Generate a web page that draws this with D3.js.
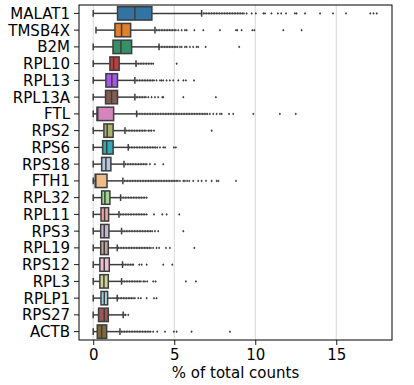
<!DOCTYPE html>
<html>
<head>
<meta charset="utf-8">
<script src="https://cdn.jsdelivr.net/npm/d3@7.9.0/dist/d3.min.js"></script>
<style>
  body { margin: 0; background: #fff; }
  text { font-family: "DejaVu Sans", sans-serif; }
</style>
</head>
<body>
<svg id="chart" width="414" height="385"></svg>
<script>
// gene order, top to bottom
const genes = ["MALAT1", "TMSB4X", "B2M", "RPL10", "RPL13", "RPL13A", "FTL", "RPS2", "RPS6", "RPS18",
  "FTH1", "RPL32", "RPL11", "RPS3", "RPL19", "RPS12", "RPL3", "RPLP1", "RPS27", "ACTB"];

// box stats (% of total counts)
const whiskerLo = [0, 0.17, 0, 0, 0, 0, 0, 0, 0, 0, 0, 0, 0, 0, 0, 0, 0, 0, 0, 0];
const q1 = [1.5, 1.34, 1.22, 1.03, 0.78, 0.76, 0.23, 0.66, 0.58, 0.52, 0.12, 0.52, 0.48, 0.46, 0.46, 0.41, 0.41, 0.48, 0.33, 0.25];
const median = [2.57, 1.75, 1.71, 1.26, 1.15, 1.13, 0.28, 0.86, 0.83, 0.78, 0.16, 0.72, 0.7, 0.68, 0.68, 0.68, 0.66, 0.68, 0.68, 0.52];
const q3 = [3.62, 2.31, 2.37, 1.6, 1.5, 1.5, 1.26, 1.23, 1.23, 1.09, 0.85, 1.03, 0.95, 0.97, 0.93, 0.99, 0.93, 0.89, 0.93, 0.83];
const whiskerHi = [6.69, 3.81, 4.06, 2.64, 2.57, 2.57, 2.68, 1.96, 2.16, 1.9, 1.83, 1.69, 1.59, 1.75, 1.48, 1.81, 1.75, 1.48, 1.85, 1.65];

// fliers
const fliers = [
  [6.8, 6.9, 7.0, 7.1, 7.2, 7.3, 7.4, 7.5, 7.6, 7.7, 7.8, 7.9, 8.0, 8.1, 8.2, 8.3, 8.4, 8.5, 8.6, 8.7, 8.8, 8.9, 9.0, 9.1, 9.2, 9.3, 9.47,
    9.78, 10.04, 10.5, 10.6, 11.0, 11.4, 11.6, 11.9, 12.45, 12.55, 13.07, 14.0, 14.8, 15.6, 17.1, 17.3, 17.5],
  [3.9, 4.0, 4.1, 4.2, 4.3, 4.4, 4.5, 4.6, 4.7, 4.8, 4.9, 5.0, 5.1, 5.25,
    5.46, 5.66, 5.77, 6.24, 6.79, 7.82, 8.81, 8.89, 9.16, 9.82, 9.94, 11.73, 12.86],
  [4.1, 4.2, 4.3, 4.4, 4.5, 4.6, 4.7, 4.8, 4.9, 5.0, 5.1, 5.2, 5.35,
    5.46, 5.66, 5.77, 5.97, 6.17, 6.38, 6.48, 6.94, 9.01],
  [2.7, 2.8, 2.9, 3.0, 3.1, 3.2, 3.3, 3.4, 3.5, 3.6, 3.7, 5.15],
  [2.65, 2.75, 2.85, 2.95, 3.05, 3.15, 3.25, 3.35, 3.45, 3.55, 3.65, 3.75, 3.91,
    4.12, 4.22, 4.32, 4.53, 4.73, 4.94, 5.25, 5.56, 5.72, 6.22],
  [2.65, 2.75, 2.85, 2.95, 3.05, 3.15, 3.25, 3.4, 3.6, 3.81, 4.01, 4.26, 4.32, 5.56, 7.57],
  [2.75, 2.85, 2.95, 3.05, 3.15, 3.25, 3.35, 3.45, 3.55, 3.65, 3.75, 3.85, 3.95, 4.05, 4.15, 4.25, 4.35, 4.45,
    4.55, 4.65, 4.75, 4.85, 4.95, 5.05, 5.15, 5.25, 5.35, 5.45, 5.55, 5.65, 5.75, 5.85, 5.95, 6.05, 6.15,
    6.25, 6.35, 6.45, 6.55, 6.65, 6.75, 6.85, 6.95, 7.05, 7.2, 7.41, 7.62, 7.82, 7.93, 8.38, 8.64, 9.88, 11.52, 12.5],
  [2.05, 2.15, 2.25, 2.35, 2.45, 2.55, 2.65, 2.75, 2.85, 2.95, 3.05, 3.15, 3.25, 3.4, 3.5, 3.6, 3.75, 7.31],
  [2.25, 2.35, 2.45, 2.55, 2.65, 2.75, 2.85, 2.95, 3.05, 3.15, 3.25, 3.35, 3.45, 3.55, 3.65, 3.75, 3.85, 3.95, 4.12,
    4.32, 4.43, 4.98, 5.1],
  [2.0, 2.1, 2.2, 2.3, 2.4, 2.5, 2.6, 2.7, 2.8, 2.9, 3.0, 3.1, 3.2, 3.3, 3.5, 3.81, 4.32],
  [1.92, 2.02, 2.12, 2.22, 2.32, 2.42, 2.52, 2.62, 2.72, 2.82, 2.92, 3.02, 3.12, 3.22, 3.32, 3.42, 3.52, 3.62,
    3.72, 3.82, 3.92, 4.02, 4.12, 4.22, 4.32, 4.42, 4.52, 4.62, 4.72, 4.82, 4.92, 5.02, 5.12, 5.22, 5.35,
    5.56, 5.66, 5.8, 5.93, 6.17, 6.48, 6.69, 6.96, 7.31, 7.62, 7.72, 8.81],
  [1.78, 1.88, 1.98, 2.08, 2.18, 2.28, 2.38, 2.48, 2.58, 2.68, 2.78, 2.88, 2.98, 3.08, 3.18, 3.3],
  [1.68, 1.78, 1.88, 1.98, 2.08, 2.18, 2.28, 2.38, 2.48, 2.58, 2.68, 2.78, 2.88, 2.98, 3.08, 3.18, 3.3,
    3.75, 4.26, 4.53, 5.31],
  [1.84, 1.94, 2.04, 2.14, 2.24, 2.34, 2.44, 2.54, 2.64, 2.74, 2.84, 2.94, 3.04, 3.14, 3.24, 3.34, 3.44, 3.54,
    3.64, 3.81, 4.01, 5.56],
  [1.56, 1.66, 1.76, 1.86, 1.96, 2.06, 2.16, 2.26, 2.36, 2.46, 2.56, 2.66, 2.76, 2.86, 2.96, 3.06, 3.16,
    3.26, 3.36, 3.46, 3.56, 3.7, 3.91, 4.07, 4.49, 4.73, 6.24],
  [1.9, 2.0, 2.1, 2.2, 2.3, 2.4, 2.47, 2.84, 2.99, 3.3, 4.32, 4.88],
  [1.84, 1.94, 2.04, 2.14, 2.24, 2.34, 2.44, 2.54, 2.64, 2.74, 2.84, 2.94, 3.09, 3.19, 3.33, 3.7, 3.85, 5.72, 6.34],
  [1.56, 1.66, 1.76, 1.86, 1.96, 2.06, 2.16, 2.26, 2.36, 2.46, 2.57, 2.78, 2.94, 3.3, 3.75, 3.91],
  [1.96, 2.0, 2.16],
  [1.74, 1.84, 1.94, 2.04, 2.14, 2.24, 2.34, 2.44, 2.54, 2.64, 2.74, 2.84, 2.94, 3.04, 3.14, 3.24, 3.34, 3.44,
    3.54, 3.7, 3.95, 4.43, 4.98, 5.15, 6.07, 8.44]
];

// scanpy default_20 palette
const palette = ["#1f77b4", "#ff7f0e", "#279e68", "#d62728", "#aa40fc", "#8c564b", "#e377c2", "#b5bd61", "#17becf", "#aec7e8",
  "#ffbb78", "#98df8a", "#ff9896", "#c5b0d5", "#c49c94", "#f7b6d2", "#dbdb8d", "#9edae5", "#ad494a", "#8c6d31"];
const xTicks = [0, 5, 10, 15];

const margin = { left: 79, right: 22, top: 5, bottom: 45 };
const W = 414, H = 385;
const svg = d3.select("#chart");
svg.append("rect").attr("width", W).attr("height", H).attr("fill", "#fff");

const x = d3.scaleLinear().domain([-0.878, 18.44]).range([margin.left, W - margin.right]);
const y = d3.scaleBand().domain(genes).range([margin.top, H - margin.bottom]);
const bw = y.bandwidth() * 0.8;
const cy = g => y(g) + y.bandwidth() / 2;

// seaborn-style desaturation
const boxColor = palette.map(c => { const h = d3.hsl(c); h.s *= 0.75; return h.formatHex(); });
const gray = "#3d3d3d";

// grid
svg.append("g").selectAll("line").data(xTicks).join("line")
  .attr("x1", d => x(d)).attr("x2", d => x(d))
  .attr("y1", margin.top).attr("y2", H - margin.bottom)
  .attr("stroke", "#cccccc").attr("stroke-width", 0.8);

const rows = svg.append("g").selectAll("g").data(genes).join("g");

// whiskers
rows.append("line")
  .attr("x1", (d, i) => x(whiskerLo[i])).attr("x2", (d, i) => x(q1[i]))
  .attr("y1", d => cy(d)).attr("y2", d => cy(d))
  .attr("stroke", gray).attr("stroke-width", 1.5);
rows.append("line")
  .attr("x1", (d, i) => x(q3[i])).attr("x2", (d, i) => x(whiskerHi[i]))
  .attr("y1", d => cy(d)).attr("y2", d => cy(d))
  .attr("stroke", gray).attr("stroke-width", 1.5);
// caps
[whiskerLo, whiskerHi].forEach(arr => {
  rows.append("line")
    .attr("x1", (d, i) => x(arr[i])).attr("x2", (d, i) => x(arr[i]))
    .attr("y1", d => cy(d) - bw / 4).attr("y2", d => cy(d) + bw / 4)
    .attr("stroke", gray).attr("stroke-width", 1.5);
});
// boxes
rows.append("rect")
  .attr("x", (d, i) => x(q1[i])).attr("width", (d, i) => x(q3[i]) - x(q1[i]))
  .attr("y", d => cy(d) - bw / 2).attr("height", bw)
  .attr("fill", (d, i) => boxColor[i])
  .attr("stroke", gray).attr("stroke-width", 1.5);
// medians
rows.append("line")
  .attr("x1", (d, i) => x(median[i])).attr("x2", (d, i) => x(median[i]))
  .attr("y1", d => cy(d) - bw / 2).attr("y2", d => cy(d) + bw / 2)
  .attr("stroke", gray).attr("stroke-width", 1.5);
// fliers (small diamonds)
rows.each(function (g, i) {
  d3.select(this).selectAll("path.flier").data(fliers[i]).join("path")
    .attr("class", "flier")
    .attr("d", v => {
      const px = x(v), py = cy(g), r = 1.4;
      return `M${px},${py - r}L${px + r * 0.8},${py}L${px},${py + r}L${px - r * 0.8},${py}Z`;
    })
    .attr("fill", gray);
});

// axes
const xAxis = svg.append("g")
  .attr("transform", `translate(0,${H - margin.bottom})`)
  .call(d3.axisBottom(x).tickValues(xTicks).tickSize(5).tickPadding(4).tickFormat(d3.format("d")));
const yAxis = svg.append("g")
  .attr("transform", `translate(${margin.left},0)`)
  .call(d3.axisLeft(y).tickSize(5).tickPadding(4));
[xAxis, yAxis].forEach(a => {
  a.select(".domain").remove();
  a.selectAll("text").attr("font-size", 15).attr("fill", "#000").attr("font-family", "DejaVu Sans");
  a.selectAll("line").attr("stroke", "#000").attr("stroke-width", 0.9);
});
yAxis.selectAll("text").attr("dy", "0.36em");

// frame
svg.append("rect")
  .attr("x", margin.left).attr("y", margin.top)
  .attr("width", W - margin.right - margin.left).attr("height", H - margin.bottom - margin.top)
  .attr("fill", "none").attr("stroke", "#000").attr("stroke-width", 1);

svg.append("text")
  .attr("x", (margin.left + W - margin.right) / 2).attr("y", 378)
  .attr("text-anchor", "middle").attr("font-size", 15).attr("fill", "#000")
  .text("% of total counts");
</script>
</body>
</html>
